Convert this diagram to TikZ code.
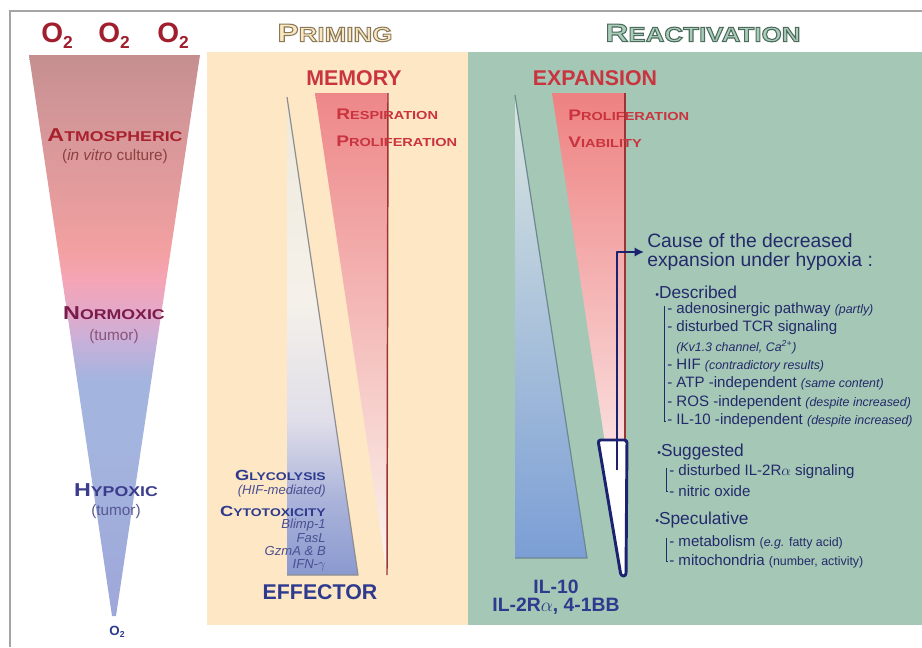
\documentclass[tikz,border=0pt]{standalone}
\usepackage{fontspec}
\setmainfont{Liberation Sans}
\newfontfamily\widesans{Liberation Sans}[FakeStretch=1.25]
\usepackage{amsmath}
\usetikzlibrary{arrows.meta, positioning}

\definecolor{framegray}{HTML}{A5A5A5}
\definecolor{primebg}{HTML}{FDE7C4}
\definecolor{reactbg}{HTML}{A5C7B5}
\definecolor{primefill}{HTML}{FBE8C0}
\definecolor{reactfill}{HTML}{AACDBA}
\definecolor{oxred}{HTML}{A11F2D}
\definecolor{atmored}{HTML}{A8222E}
\definecolor{vitrored}{HTML}{8E3F40}
\definecolor{normored}{HTML}{7B1B4B}
\definecolor{normosub}{HTML}{8C5277}
\definecolor{hypoblue}{HTML}{3B3C8C}
\definecolor{hyposub}{HTML}{565892}
\definecolor{memred}{HTML}{C9343F}
\definecolor{edgered}{HTML}{9B3434}
\definecolor{effblue}{HTML}{2E3A8E}
\definecolor{subblue}{HTML}{4A4F92}
\definecolor{listnavy}{HTML}{232A6B}
\definecolor{boxnavy}{HTML}{1B2270}
\definecolor{edgegray}{HTML}{8E8E92}
\definecolor{edgeteal}{HTML}{6C8890}
% funnel
\definecolor{funrose}{HTML}{C48E8F}
\definecolor{funrosetwo}{HTML}{D09597}
\definecolor{funrosethree}{HTML}{E69C9D}
\definecolor{funsalmon}{HTML}{F3A0A1}
\definecolor{funpink}{HTML}{F4A5B6}
\definecolor{funmauve}{HTML}{E4A9C8}
\definecolor{funlilac}{HTML}{C8B0DA}
\definecolor{funbluetwo}{HTML}{A3B4DE}
\definecolor{funblue}{HTML}{9EA7D9}
% effector triangle
\definecolor{efftop}{HTML}{EFE9DB}
\definecolor{effpale}{HTML}{F5F1EA}
\definecolor{efflight}{HTML}{E0DEE9}
\definecolor{effmid}{HTML}{AAB3DA}
\definecolor{effbot}{HTML}{8A99CF}

\pgfdeclareverticalshading{funnelshade}{100bp}{color(0bp)=(funblue); color(25bp)=(funblue); color(40bp)=(funbluetwo); color(46bp)=(funbluetwo); color(49.6bp)=(funlilac); color(52.2bp)=(funmauve); color(54.9bp)=(funpink); color(57.6bp)=(funsalmon); color(62bp)=(funrosethree); color(71bp)=(funrosetwo); color(75bp)=(funrose); color(100bp)=(funrose)}
\pgfdeclareverticalshading{effshade}{100bp}{color(0bp)=(effbot); color(25bp)=(effbot); color(32.8bp)=(effmid); color(41.2bp)=(efflight); color(53.8bp)=(effpale); color(75bp)=(efftop); color(100bp)=(efftop)}

\makeatletter
\newdimen\fscdim
\newcommand\fsc[3][0.76]{#2{\fscdim=\f@size pt\fscdim=#1\fscdim\fontsize{\fscdim}{\fscdim}\selectfont#3}}
\makeatother
\newcommand\outlined[2]{{\special{pdf:literal direct #1 RG 2 Tr 0.8 w}#2\special{pdf:literal direct 0 Tr 0.4 w}}}
\newcommand\paren[1]{{\itshape\fontsize{9.3}{9.3}\selectfont#1}}
\newcommand\oxy[2]{O\raisebox{#1}{\fontsize{#2}{#2}\selectfont 2}}

\begin{document}
\begin{tikzpicture}[x=0.75pt,y=0.75pt,yscale=-1,xscale=1,
  header/.style={font=\widesans\bfseries\fontsize{19}{19}\selectfont, inner sep=0.75pt},
  funlabel/.style={font=\widesans\bfseries\fontsize{14}{14}\selectfont, inner sep=0.75pt},
  funsub/.style={font=\fontsize{11.5}{11.5}\selectfont, inner sep=0.75pt},
  stagelabel/.style={font=\bfseries\fontsize{16}{16}\selectfont, inner sep=0.75pt},
  capsred/.style={text=memred, font=\widesans\bfseries\fontsize{11.5}{11.5}\selectfont, inner sep=0.75pt, anchor=west},
  capsblue/.style={text=effblue, font=\widesans\bfseries\fontsize{11}{11}\selectfont, inner sep=0.75pt, anchor=east},
  effsub/.style={text=subblue, font=\itshape\fontsize{9.8}{9.8}\selectfont, inner sep=0.75pt, anchor=east},
  listhead/.style={text=listnavy, font=\fontsize{13}{13}\selectfont, inner sep=0.75pt, anchor=west},
  listtext/.style={text=listnavy, font=\fontsize{11.3}{11.3}\selectfont, inner sep=0.75pt, anchor=west},
  bracket/.style={draw=listnavy, line width=0.7},
  navyline/.style={draw=boxnavy, line width=2.2, line join=round}]
\useasboundingbox (0,0) rectangle (922,647);

%Shape: Rectangle [priming panel]
\fill[primebg] (207,52) rectangle (468,625);
%Shape: Rectangle [reactivation panel]
\fill[reactbg] (468,52) rectangle (922,625);
%Straight Lines [frame]
\draw[framegray, line width=1.1] (10,647) -- (10,11) -- (922,11);

%Shape: Triangle [oxygen funnel]
\shade[shading=funnelshade] (29,55) -- (200,55) -- (116,616) -- (112,616) -- cycle;

%Shape: Triangle [effector]
\shade[shading=effshade] (287,97) -- (287,575) -- (358,575) -- cycle;
\draw[edgegray, line width=0.9] (287,97) -- (358,575) -- (287,575);
%Shape: Triangle [memory]
\shade[top color={rgb,255:red,238;green,135;blue,137}, middle color={rgb,255:red,244;green,198;blue,196}, bottom color={rgb,255:red,251;green,246;blue,239}] (315,93) -- (388,93) -- (387,575) -- cycle;
\draw[edgered, line width=1.1] (388,93) -- (387,575);

%Shape: Triangle [IL-10]
\shade[top color={rgb,255:red,218;green,230;blue,224}, middle color={rgb,255:red,192;green,209;blue,228}, bottom color={rgb,255:red,123;green,158;blue,213}] (515,95) -- (515,558) -- (587,558) -- cycle;
\draw[edgeteal, line width=0.9] (515,95) -- (587,558) -- (515,558);
%Shape: Triangle [expansion]
\shade[top color={rgb,255:red,238;green,129;blue,129}, middle color={rgb,255:red,244;green,185;blue,185}, bottom color=white] (552,93) -- (625,93) -- (625,575) -- cycle;
\draw[edgered, line width=1.1] (625,93) -- (625,440);

%Shape: Polygon [hypoxia tip]
\draw[navyline, fill=white, rounded corners=2] (598,440) -- (627,440) -- (626,576) -- (621,576) -- cycle;

% Text Node
\draw (57,42) node (oxa) [anchor=base, text=oxred, font=\bfseries\fontsize{21}{21}\selectfont, inner sep=0.75pt] {\oxy{-4.5pt}{13}};
% Text Node
\draw (114,42) node (oxb) [anchor=base, text=oxred, font=\bfseries\fontsize{21}{21}\selectfont, inner sep=0.75pt] {\oxy{-4.5pt}{13}};
% Text Node
\draw (173,42) node (oxc) [anchor=base, text=oxred, font=\bfseries\fontsize{21}{21}\selectfont, inner sep=0.75pt] {\oxy{-4.5pt}{13}};
% Text Node
\draw (117,635) node (oxlow) [anchor=base, text=effblue, font=\bfseries\fontsize{10}{10}\selectfont, inner sep=0.75pt] {\oxy{-2pt}{6.5}};

% Text Node
\draw (115,135) node (atmo) [funlabel, text=atmored] {\fsc{A}{TMOSPHERIC}};
% Text Node
\draw (115,157) node (vitro) [funsub, text=vitrored] {(\textit{in vitro} culture)};
% Text Node
\draw (114,313) node (normo) [funlabel, text=normored] {\fsc{N}{ORMOXIC}};
% Text Node
\draw (114,337) node (normosub) [funsub, text=normosub] {(tumor)};
% Text Node
\draw (116,490) node (hypo) [funlabel, text=hypoblue] {\fsc{H}{YPOXIC}};
% Text Node
\draw (116,512) node (hyposub) [funsub, text=hyposub] {(tumor)};

% Text Node
\draw (354,78) node (memory) [stagelabel, text=memred] {MEMORY};
% Text Node
\draw (335,114) node (resp) [capsred] {\fsc{R}{ESPIRATION}};
% Text Node
\draw (335,141) node (prolif) [capsred] {\fsc{P}{ROLIFERATION}};
% Text Node
\draw (327,475) node (glyco) [capsblue] {\fsc{G}{LYCOLYSIS}};
% Text Node
\draw (327,491) node (hifmed) [effsub] {(HIF-mediated)};
% Text Node
\draw (327,511) node (cyto) [capsblue] {\fsc{C}{YTOTOXICITY}};
% Text Node
\draw (327,525) node (blimp) [effsub] {Blimp-1};
% Text Node
\draw (327,538) node (fasl) [effsub] {FasL};
% Text Node
\draw (327,551) node (gzm) [effsub] {GzmA \& B};
% Text Node
\draw (327,565) node (ifn) [effsub] {IFN-$\gamma$};
% Text Node
\draw (320,592) node (effector) [stagelabel, text=effblue] {EFFECTOR};

% Text Node
\draw (595,78) node (expansion) [stagelabel, text=memred] {EXPANSION};
% Text Node
\draw (567,115) node (prolifb) [capsred] {\fsc{P}{ROLIFERATION}};
% Text Node
\draw (567,142) node (viab) [capsred] {\fsc{V}{IABILITY}};
% Text Node
\draw (556,587) node (ilten) [font=\bfseries\fontsize{14.5}{14.5}\selectfont, text=effblue, inner sep=0.75pt] {IL-10};
% Text Node
\draw (556,606) node (iltwo) [font=\bfseries\fontsize{14.5}{14.5}\selectfont, text=effblue, inner sep=0.75pt] {IL-2R$\alpha$, 4-1BB};

% Text Node
\draw (646,252) node (cause) [listtext, font=\fontsize{14.5}{14.5}\selectfont, align=left] {Cause of the decreased\\expansion under hypoxia :};
% Text Node
\draw (654,292) node (described) [listhead] {{\fontsize{8}{8}\selectfont\textbullet}Described};
% Text Node
\draw (666,310) node (adeno) [listtext] {- adenosinergic pathway \paren{(partly)}};
% Text Node
\draw (666,328) node (tcr) [listtext] {- disturbed TCR signaling};
% Text Node
\draw (675,347) node (kv) [listtext] {\paren{(Kv1.3 channel, Ca\textsuperscript{2+})}};
% Text Node
\draw (666,366) node (hif) [listtext] {- HIF \paren{(contradictory results)}};
% Text Node
\draw (666,384) node (atp) [listtext] {- ATP -independent \paren{(same content)}};
% Text Node
\draw (666,403) node (ros) [listtext] {- ROS -independent \paren{(despite increased)}};
% Text Node
\draw (666,421) node (iltenind) [listtext] {- IL-10 -independent \paren{(despite increased)}};
% Text Node
\draw (656,452) node (suggested) [listhead] {{\fontsize{8}{8}\selectfont\textbullet}Suggested};
% Text Node
\draw (668,472) node (iltwosig) [listtext] {- disturbed IL-2R$\alpha$ signaling};
% Text Node
\draw (668,491) node (nitric) [listtext] {- nitric oxide};
% Text Node
\draw (654,520) node (specul) [listhead] {{\fontsize{8}{8}\selectfont\textbullet}Speculative};
% Text Node
\draw (668,542) node (metab) [listtext] {- metabolism {\fontsize{9.3}{9.3}\selectfont(\textit{e.g.} fatty acid)}};
% Text Node
\draw (668,561) node (mito) [listtext] {- mitochondria {\fontsize{9.3}{9.3}\selectfont(number, activity)}};

%Straight Lines [brackets]
\draw[bracket] (adeno.north west) ++(-2,4) |- (iltenind.west);
\draw[bracket] (iltwosig.north west) ++(-2,4) |- (nitric.west);
\draw[bracket] (metab.north west) ++(-2,4) |- (mito.west);

%Straight Lines [arrow to causes]
\coordinate (arrbase) at (617,470);
\draw[navyline, -{Latex[length=7pt,width=7pt]}, shorten >=1.5pt] (arrbase) |- (cause.west);

% Text Node
\draw (335,33) node (priming) [header, text=primefill] {\outlined{0.54 0.48 0.36}{\fsc[0.82]{P}{RIMING}}};
% Text Node
\draw (703,33) node (react) [header, text=reactfill] {\outlined{0.30 0.42 0.36}{\fsc[0.82]{R}{EACTIVATION}}};

\end{tikzpicture}
\end{document}
